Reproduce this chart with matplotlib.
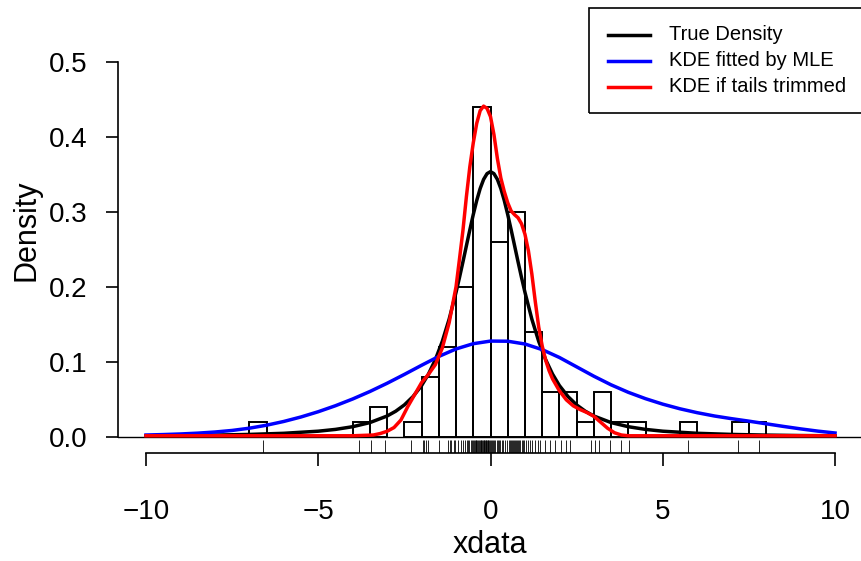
import numpy as np
import matplotlib
matplotlib.use("Agg")
import matplotlib.pyplot as plt
from matplotlib.lines import Line2D
from matplotlib.patches import Rectangle

plt.rcParams['font.family'] = ['Liberation Sans', 'DejaVu Sans']

# ---- histogram (density, bin width 0.5) ----
bin_left = [-7.0, -4.0, -3.5, -2.5, -2.0, -1.5, -1.0, -0.5, 0.0, 0.5, 1.0, 1.5,
            2.0, 2.5, 3.0, 3.5, 4.0, 5.5, 7.0, 7.5]
bin_density = [0.02, 0.02, 0.04, 0.02, 0.08, 0.12, 0.20, 0.44, 0.26, 0.30, 0.14, 0.06,
               0.06, 0.02, 0.06, 0.02, 0.02, 0.02, 0.02, 0.02]
bin_width = 0.5

# ---- rug (data points) ----
rug_x = [-6.6, -3.83, -3.48, -3.06, -2.32, -1.97, -1.93, -1.87, -1.82,
         -1.49, -1.23, -1.19, -1.14, -1.05, -1.02,
         -0.95, -0.87, -0.80, -0.74, -0.69, -0.65, -0.61, -0.57, -0.54, -0.51,
         -0.48, -0.46, -0.43, -0.41, -0.38, -0.36, -0.33, -0.31, -0.29, -0.27, -0.24,
         -0.22, -0.20, -0.18, -0.16, -0.14, -0.12, -0.10, -0.08, -0.06, -0.04, -0.02,
         0.02, 0.05, 0.08, 0.11, 0.14, 0.18, 0.21, 0.25, 0.29, 0.33, 0.37, 0.42, 0.47,
         0.53, 0.56, 0.59, 0.62, 0.65, 0.68, 0.71, 0.74, 0.77, 0.80, 0.84, 0.87, 0.91,
         0.94, 0.98,
         1.04, 1.09, 1.15, 1.21, 1.28, 1.39, 1.45,
         1.57, 1.72, 1.88, 2.06, 2.18, 2.32, 2.92, 3.02, 3.16, 3.48, 3.79, 4.03,
         5.72, 7.17, 7.78]

# ---- True density curve ----
true_x = [-10, -9, -8, -7, -6, -5, -4.5, -4, -3.5, -3, -2.75, -2.5, -2.25, -2,
          -1.8, -1.6, -1.4, -1.2, -1.0, -0.9, -0.8, -0.7, -0.6, -0.5, -0.4, -0.3,
          -0.2, -0.1, 0.0, 0.1, 0.2, 0.3, 0.4, 0.5, 0.6, 0.7, 0.8, 0.9, 1.0, 1.2,
          1.4, 1.6, 1.8, 2.0, 2.25, 2.5, 2.75, 3.0, 3.5, 4.0, 4.5, 5, 6, 7, 8, 9, 10]
true_y = [0.0010, 0.0013, 0.0019, 0.0028, 0.0043, 0.0071, 0.0095, 0.0131, 0.0186,
          0.0274, 0.0338, 0.0422, 0.0533, 0.0680, 0.0834, 0.1027, 0.1269, 0.1567,
          0.1925, 0.2123, 0.2331, 0.2545, 0.2758, 0.2963, 0.3150, 0.3310, 0.3432,
          0.3509, 0.3536, 0.3509, 0.3432, 0.3310, 0.3150, 0.2963, 0.2758, 0.2545,
          0.2331, 0.2123, 0.1925, 0.1567, 0.1269, 0.1027, 0.0834, 0.0680, 0.0533,
          0.0422, 0.0338, 0.0274, 0.0186, 0.0131, 0.0095, 0.0071, 0.0043, 0.0028,
          0.0019, 0.0013, 0.0010]

# ---- KDE fitted by MLE ----
mle_x = [-10, -9.5, -9, -8.5, -8, -7.5, -7, -6.5, -6, -5.5, -5, -4.5, -4, -3.5, -3,
         -2.5, -2, -1.5, -1, -0.5, 0, 0.5, 1, 1.5, 2, 2.5, 3, 3.5, 4, 4.5, 5, 5.5,
         6, 6.5, 7, 7.5, 8, 8.5, 9, 9.5, 10]
mle_y = [0.0020, 0.0026, 0.0034, 0.0045, 0.0060, 0.0081, 0.0111, 0.0151, 0.0201,
         0.0261, 0.0331, 0.0411, 0.0501, 0.0601, 0.0711, 0.0829, 0.0951, 0.1069,
         0.1169, 0.1239, 0.1274, 0.1272, 0.1235, 0.1160, 0.1055, 0.0930, 0.0805,
         0.0690, 0.0590, 0.0505, 0.0432, 0.0370, 0.0318, 0.0274, 0.0238, 0.0205,
         0.0170, 0.0135, 0.0102, 0.0072, 0.0047]

# ---- KDE if tails trimmed ----
trim_x = [-10, -4, -3.4, -3.2, -3.0, -2.8, -2.6, -2.4, -2.2, -2.0, -1.8, -1.6, -1.4,
          -1.2, -1.0, -0.9, -0.8, -0.7, -0.6, -0.5, -0.4, -0.3, -0.2, -0.1, 0.0,
          0.1, 0.2, 0.3, 0.4, 0.5, 0.6, 0.7, 0.8, 0.9, 1.0, 1.1, 1.2, 1.3, 1.4,
          1.5, 1.6, 1.7, 1.8, 2.0, 2.2, 2.4, 2.6, 2.8, 3.0, 3.2, 3.4, 3.6, 3.8,
          4.0, 10]
trim_y = [0.001, 0.001, 0.002, 0.004, 0.007, 0.012, 0.022, 0.040, 0.056, 0.072,
          0.083, 0.096, 0.118, 0.152, 0.200, 0.237, 0.275, 0.320, 0.360, 0.392,
          0.418, 0.435, 0.441, 0.438, 0.427, 0.403, 0.371, 0.345, 0.327, 0.312,
          0.301, 0.296, 0.292, 0.284, 0.270, 0.248, 0.217, 0.180, 0.146, 0.121,
          0.102, 0.088, 0.077, 0.061, 0.049, 0.041, 0.036, 0.032, 0.027, 0.019,
          0.011, 0.005, 0.002, 0.001, 0.001]

legend_labels = ["True Density", "KDE fitted by MLE", "KDE if tails trimmed"]
legend_colors = ["black", "#0000FF", "#FF0000"]

W, H = 861, 561
fig = plt.figure(figsize=(W / 100, H / 100), dpi=100)
ax = fig.add_axes([118.4 / W, (H - 453) / H, (862.6 - 118.4) / W, (453 - 8) / H])
ax.set_xlim(-10.8, 10.8)
ax.set_ylim(-0.022, 0.572)

ax.bar(bin_left, bin_density, width=bin_width, align='edge', fill=False,
       edgecolor='black', linewidth=1.4, zorder=2)
ax.axhline(0, color='black', lw=1.0, zorder=1)

ax.vlines(rug_x, 0, 0.03, transform=ax.get_xaxis_transform(), color='black',
          lw=0.6, zorder=2)

lw = 2.5
ax.plot(true_x, true_y, color='black', lw=lw, zorder=3, solid_joinstyle='round')
ax.plot(mle_x, mle_y, color='#0000FF', lw=lw, zorder=3, solid_joinstyle='round')
ax.plot(trim_x, trim_y, color='#FF0000', lw=lw, zorder=4, solid_joinstyle='round')

for s in ['top', 'right']:
    ax.spines[s].set_visible(False)
ax.spines['bottom'].set_bounds(-10, 10)
ax.spines['left'].set_bounds(0, 0.5)
for s in ['bottom', 'left']:
    ax.spines[s].set_linewidth(1.2)

ax.set_xticks([-10, -5, 0, 5, 10])
ax.set_yticks([0.0, 0.1, 0.2, 0.3, 0.4, 0.5])
ax.set_yticklabels(['0.0', '0.1', '0.2', '0.3', '0.4', '0.5'])
ax.tick_params(axis='both', length=9, width=1.2, labelsize=20)
ax.tick_params(axis='x', pad=24)
ax.tick_params(axis='y', pad=13)

def fx(px):
    return px / W

def fy(py):
    return 1 - py / H

fig.text(fx(490), fy(553), 'xdata', fontsize=22, ha='center', va='baseline')
fig.text(fx(27), fy(230), 'Density', fontsize=22, ha='center', va='center',
         rotation=90)

# legend box (top-right of plot region, clipped by figure edge)
fig.patches.append(Rectangle((fx(589), fy(113)), fx(880) - fx(589), fy(8) - fy(113),
                             transform=fig.transFigure, fill=False,
                             edgecolor='black', lw=1.2))
rows = [35, 61, 87]
for py, lab, col in zip(rows, legend_labels, legend_colors):
    fig.lines.append(Line2D([fx(608), fx(650)], [fy(py), fy(py)],
                            transform=fig.transFigure, color=col, lw=lw))
    fig.text(fx(669), fy(py), lab, fontsize=14.5, va='center', ha='left')

fig.savefig('out.png', dpi=100)
